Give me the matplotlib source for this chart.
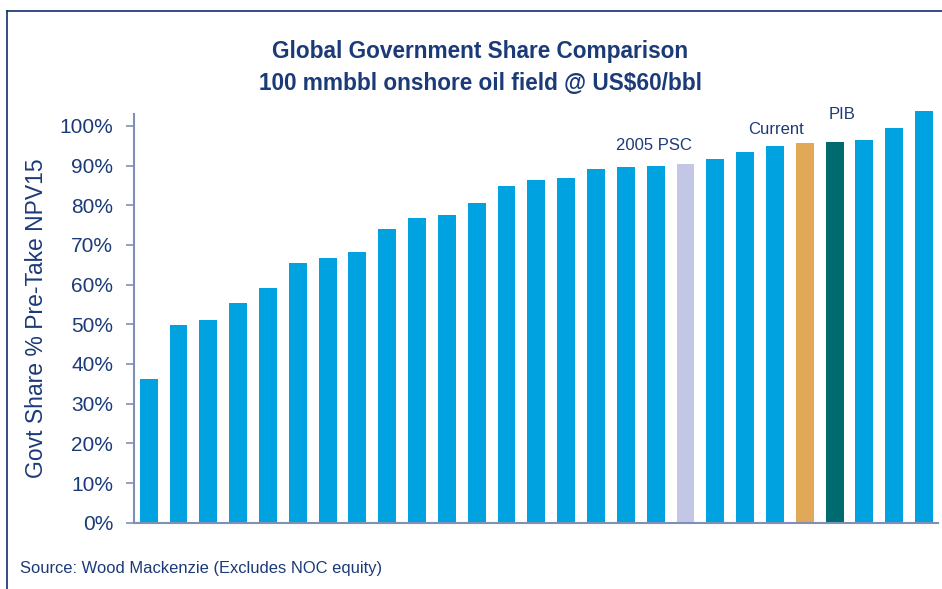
import matplotlib.pyplot as plt
from matplotlib.ticker import PercentFormatter
from matplotlib.lines import Line2D

# government share of pre-take NPV15, sorted low to high (fraction)
shares = [0.362, 0.498, 0.511, 0.554, 0.592, 0.655, 0.667, 0.682, 0.740,
          0.768, 0.775, 0.805, 0.848, 0.863, 0.868, 0.891, 0.896, 0.899,
          0.904, 0.916, 0.934, 0.949, 0.957, 0.959, 0.964, 0.995, 1.038]
# highlighted regimes: bar index -> label
highlights = {18: '2005 PSC', 22: 'Current', 23: 'PIB'}
highlight_colors = {18: '#C3C6E4', 22: '#E1A857', 23: '#006B6E'}

navy = '#1B3A78'
axis_col = '#7F8FB5'
blue = '#00A3E0'

plt.rcParams['font.family'] = ['Liberation Sans', 'DejaVu Sans']

fig = plt.figure(figsize=(9.42, 5.89), dpi=100)
ax = fig.add_axes([0.1423, 0.1125, 0.8535, 0.694])

x = range(len(shares))
colors = [highlight_colors.get(i, blue) for i in x]
ax.bar(x, shares, width=0.6, color=colors, zorder=2, clip_on=False)

ax.set_xlim(-0.49, len(shares) - 0.53)
ax.set_ylim(0, 1.03)
ax.set_yticks([i / 10 for i in range(11)])
ax.yaxis.set_major_formatter(PercentFormatter(1.0, decimals=0))
ax.tick_params(axis='y', direction='out', length=6, width=1.2, color=axis_col,
               labelsize=15, labelcolor=navy, pad=9)
ax.set_xticks([])
for s in ['top', 'right']:
    ax.spines[s].set_visible(False)
for s in ['left', 'bottom']:
    ax.spines[s].set_color(axis_col)
    ax.spines[s].set_linewidth(1.5)
ax.set_ylabel('Govt Share % Pre-Take NPV15', fontsize=16.5, color=navy, va='center')
ax.yaxis.set_label_coords(-0.121, 0.5)

# labels over highlighted bars
offsets = {18: (-1.07, 0.95), 22: (-0.97, 0.992), 23: (0.25, 1.028)}
for i, name in highlights.items():
    dx, y = offsets[i]
    ax.text(i + dx, y, name, ha='center', va='center', fontsize=12, color=navy)

fig.text(0.51, 0.885, 'Global Government Share Comparison\n100 mmbbl onshore oil field @ US$60/bbl',
         ha='center', va='center', fontsize=16.3, fontweight='bold', color=navy,
         linespacing=1.48)
fig.text(0.021, 0.034, 'Source: Wood Mackenzie (Excludes NOC equity)',
         ha='left', va='center', fontsize=11.9, color=navy)

# frame lines along top and left edge
fig.add_artist(Line2D([0.0074, 1.0], [0.981, 0.981], color='#0F2F70', lw=1.2))
fig.add_artist(Line2D([0.0074, 0.0074], [0.0, 0.981], color='#0F2F70', lw=1.2))

fig.savefig('out.png', dpi=100)
